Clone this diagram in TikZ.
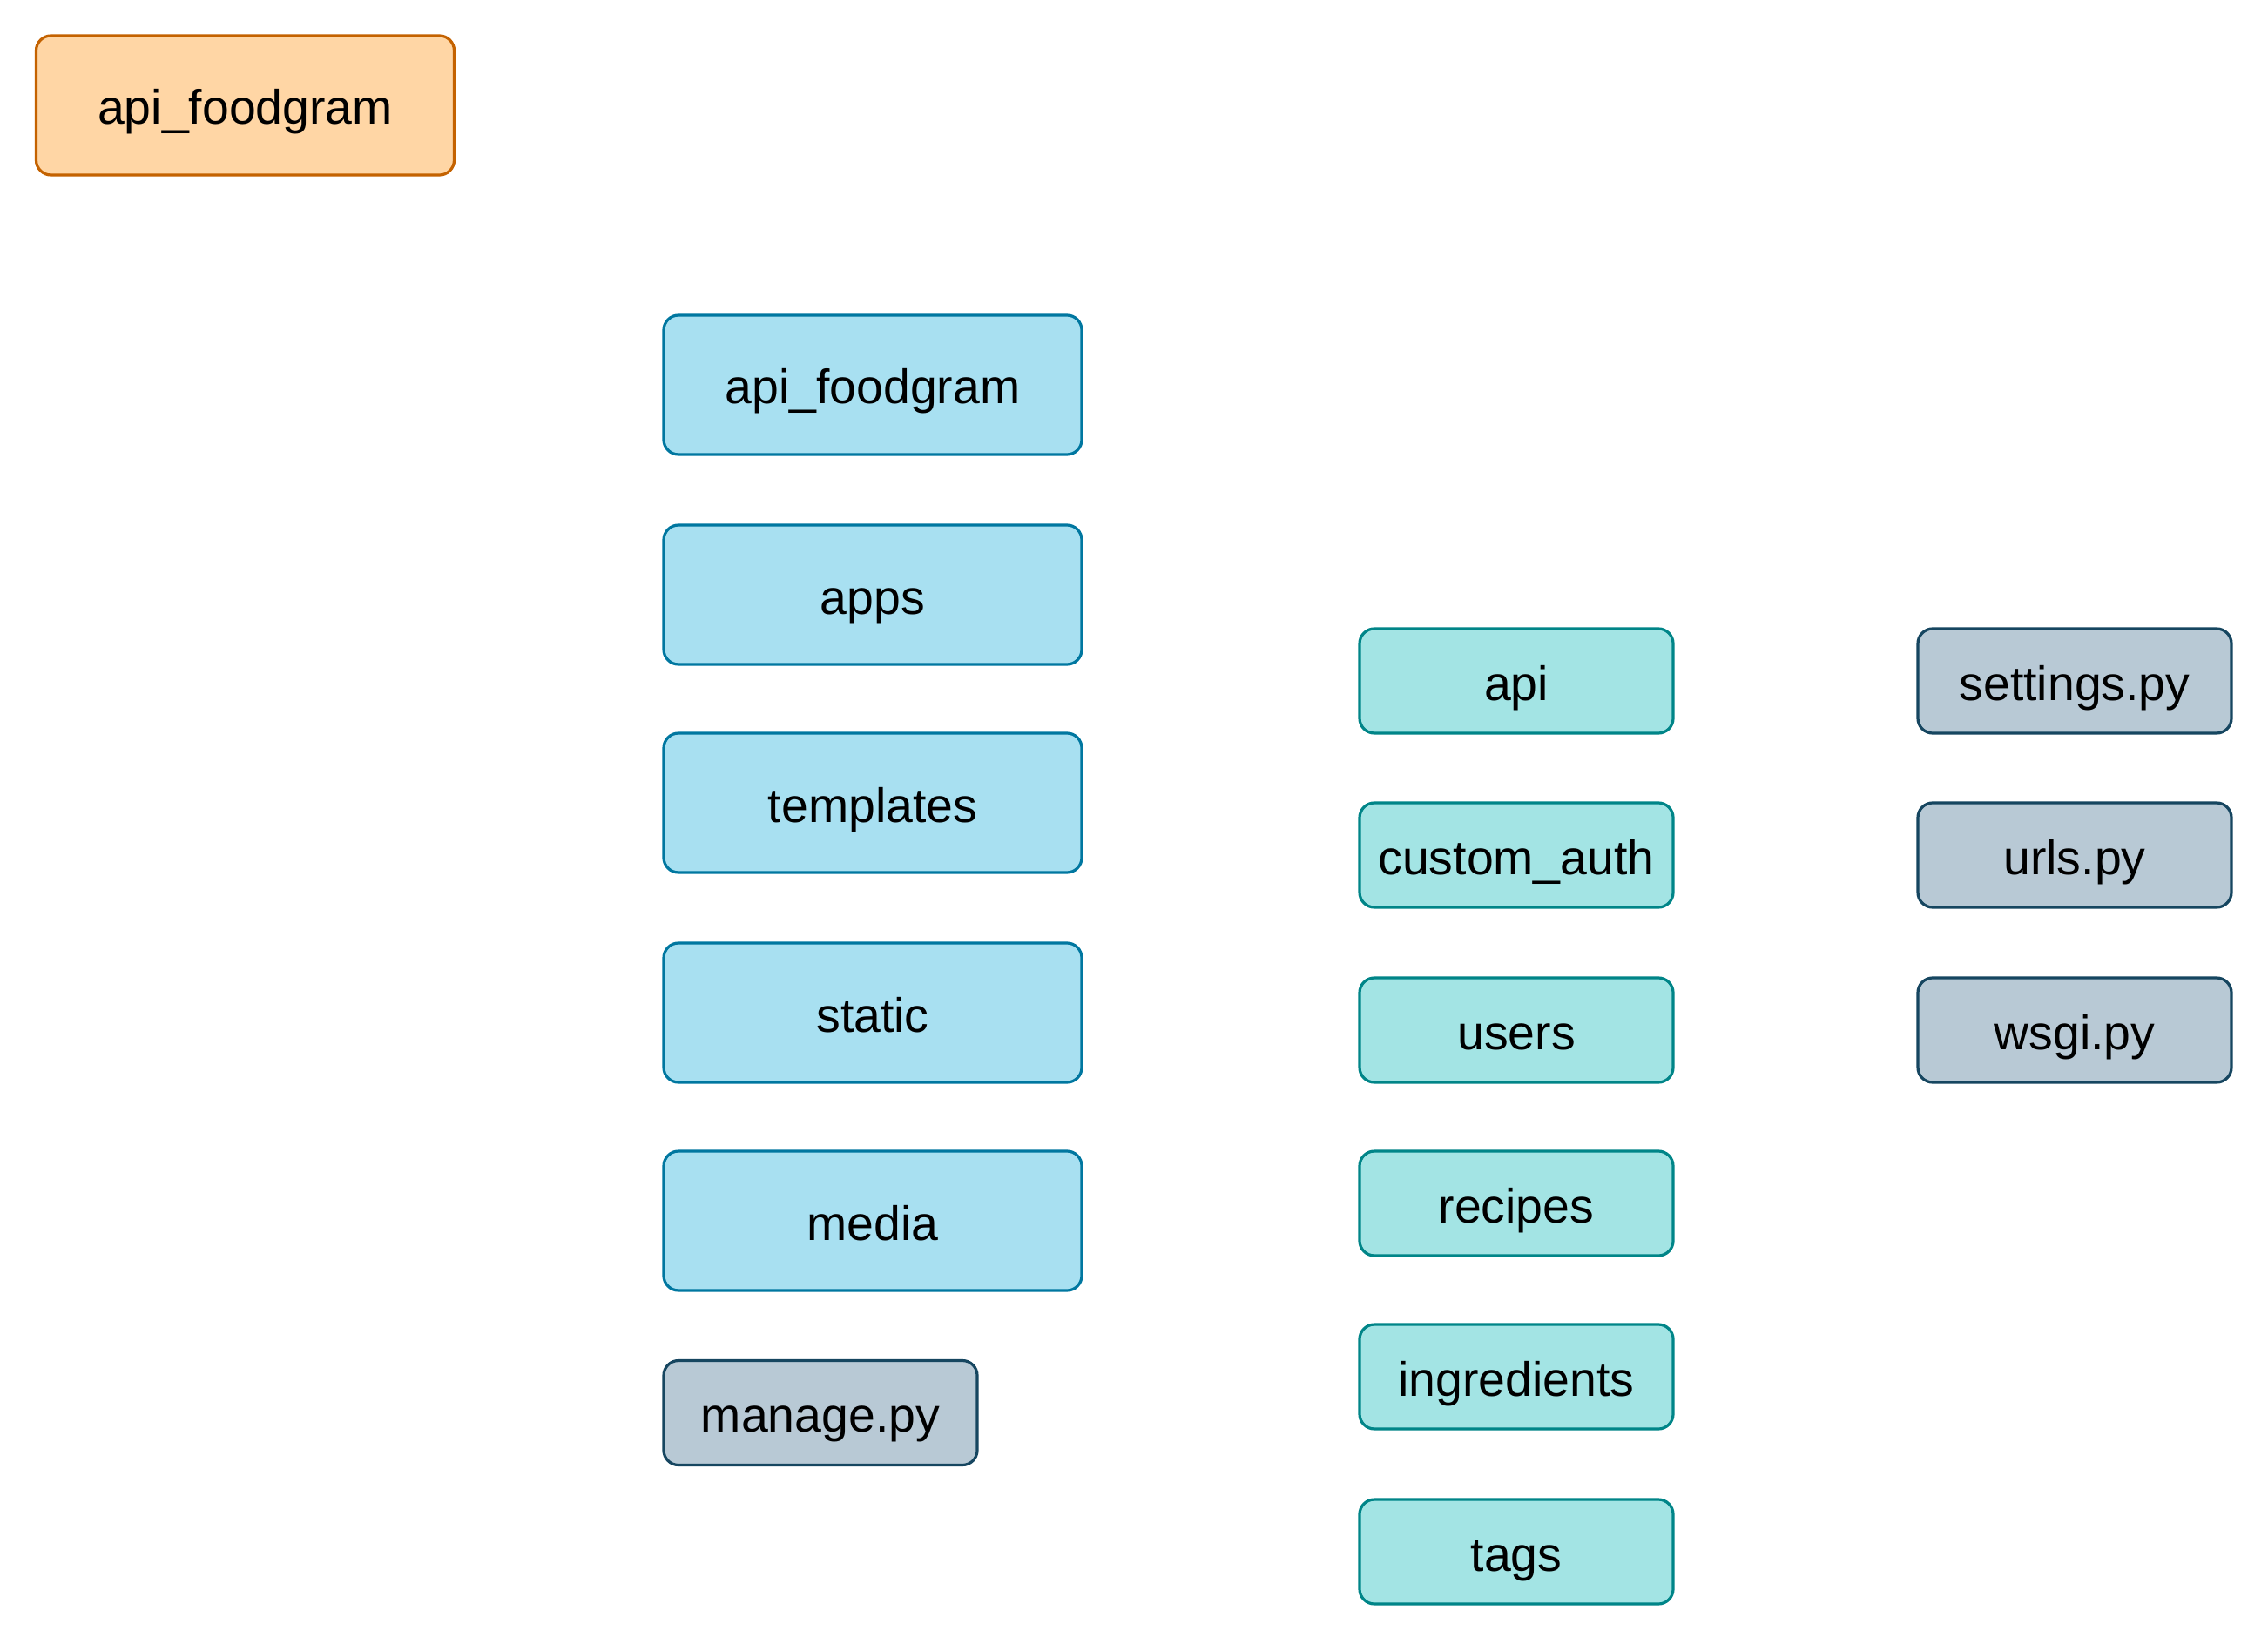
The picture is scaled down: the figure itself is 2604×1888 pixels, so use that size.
\documentclass[tikz,border=0pt]{standalone}
\usepackage{fontspec}
\setmainfont{Liberation Sans}
\definecolor{orfill}{RGB}{255,214,165}
\definecolor{ordraw}{RGB}{196,98,0}
\definecolor{blfill}{RGB}{168,224,241}
\definecolor{bldraw}{RGB}{0,119,160}
\definecolor{tlfill}{RGB}{163,228,228}
\definecolor{tldraw}{RGB}{0,133,136}
\definecolor{gyfill}{RGB}{184,201,213}
\definecolor{gydraw}{RGB}{22,70,96}
\tikzset{
  box/.style={rectangle, rounded corners=8.5pt, line width=1.6pt, inner sep=0pt,
    font=\fontsize{27.7}{33}\selectfont, text=black, anchor=center,
    text height=26pt, text depth=4pt},
  rootbox/.style={box, fill=orfill, draw=ordraw, minimum width=240pt, minimum height=80pt},
  dirbox/.style={box, fill=blfill, draw=bldraw, minimum width=240pt, minimum height=80pt},
  appbox/.style={box, fill=tlfill, draw=tldraw, minimum width=180pt, minimum height=60pt},
  filebox/.style={box, fill=gyfill, draw=gydraw, minimum width=180pt, minimum height=60pt}
}
\begin{document}
\begin{tikzpicture}[x=0.5pt,y=-0.5pt]
\useasboundingbox[fill=white] (0,0) rectangle (2604,1888);
\node[rootbox] (root) at (281.5,121) {api\_foodgram};
\node[dirbox] (proj) at (1002,442) {api\_foodgram};
\node[dirbox] (apps) at (1002,683) {apps};
\node[dirbox] (templates) at (1002,922) {templates};
\node[dirbox] (static) at (1002,1163) {static};
\node[dirbox] (media) at (1002,1402) {media};
\node[filebox] (manage) at (942,1622.5) {manage.py};
\node[appbox] (api) at (1741,782) {api};
\node[appbox] (customauth) at (1741,982) {custom\_auth};
\node[appbox] (users) at (1741,1183) {users};
\node[appbox] (recipes) at (1741,1382) {recipes};
\node[appbox] (ingredients) at (1741,1581) {ingredients};
\node[appbox] (tags) at (1741,1782) {tags};
\node[filebox] (settings) at (2382,782) {settings.py};
\node[filebox] (urls) at (2382,982) {urls.py};
\node[filebox] (wsgi) at (2382,1183) {wsgi.py};
\end{tikzpicture}
\end{document}
